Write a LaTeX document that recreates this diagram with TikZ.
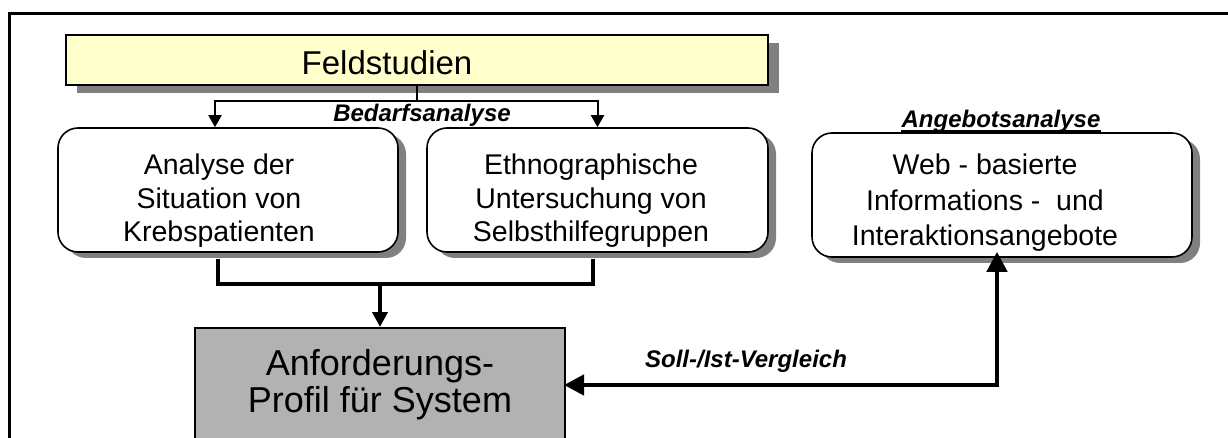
\documentclass[tikz,border=0pt]{standalone}
\usepackage{fontspec}
\setmainfont{Liberation Sans}
\usetikzlibrary{arrows.meta,shadows}

\definecolor{paleyellow}{HTML}{FFFFCC}
\definecolor{reqgray}{HTML}{B2B2B2}
\definecolor{shadowgray}{HTML}{808080}

\tikzset{
  frameline/.style={line width=2.5pt},
  roundbox/.style={draw, fill=white, line width=1.6pt, rounded corners=20pt,
    inner sep=0pt,
    drop shadow={shadow xshift=8pt, shadow yshift=-6pt, fill=shadowgray, opacity=1}},
  titlebox/.style={draw, fill=paleyellow, line width=1.6pt, inner sep=0pt,
    drop shadow={shadow xshift=11pt, shadow yshift=-8pt, fill=shadowgray, opacity=1}},
  reqbox/.style={draw, fill=reqgray, line width=2pt, inner sep=0pt},
  % multi-line texts are placed by the baseline of their last line
  boxtext/.style={align=center, inner sep=0pt, anchor=base},
  tag/.style={font=\fontsize{24}{28}\selectfont\bfseries\itshape, inner sep=0pt, anchor=base},
  thinline/.style={line width=2pt},
  thinlink/.style={line width=2pt, -{Triangle[width=13pt,length=12pt]}},
  thickline/.style={line width=4.5pt},
  thicklink/.style={line width=4.5pt, -{Triangle[width=15pt,length=15pt]}},
  comparelink/.style={line width=4.5pt, {Triangle[width=20pt,length=20pt]}-{Triangle[width=20pt,length=20pt]}},
}

\begin{document}
\begin{tikzpicture}[x=1pt,y=-1pt]
  \clip (0,0) rectangle (1228,438);
  \fill[white] (0,0) rectangle (1228,438);

  % outer frame, running off the page to the right and bottom
  \draw[frameline] (9.5,460) -- (9.5,13.5) -- (1250,13.5);

  % top box
  \node[titlebox, minimum width=702pt, minimum height=50pt] (feld) at (417,60) {};
  \node[inner sep=0pt, anchor=base, font=\fontsize{33}{38}\selectfont] (feldtext) at (387,75) {Feldstudien};

  % the three rounded boxes
  \node[roundbox, minimum width=340pt, minimum height=124pt] (ana) at (228,190) {};
  \node[roundbox, minimum width=341pt, minimum height=124pt] (eth) at (597.5,190) {};
  \node[roundbox, minimum width=380pt, minimum height=124pt] (web) at (1002,195) {};

  \node[boxtext, font=\fontsize{28.5}{33.5}\selectfont] (anatext) at (219,242)
    {Analyse der\\Situation von\\Krebspatienten};
  \node[boxtext, font=\fontsize{28.5}{33.5}\selectfont] (ethtext) at (591,242)
    {Ethnographische\\Untersuchung von\\Selbsthilfegruppen};
  \node[boxtext, font=\fontsize{28.5}{35.5}\selectfont] (webtext) at (985,246)
    {Web - basierte\\Informations -\ \ und\\Interaktionsangebote};

  % requirements box, cut by the bottom edge
  \node[reqbox, minimum width=370pt, minimum height=134pt] (req) at (380,395) {};
  \node[boxtext, font=\fontsize{36}{37}\selectfont] (reqtext) at (380,412)
    {Anforderungs-\\Profil für System};

  % labels
  \node[tag] (bed) at (422,122) {Bedarfsanalyse};
  \node[tag] (ang) at (1001,128) {Angebotsanalyse};
  \draw[line width=1.8pt] ([yshift=-3pt]ang.base west) -- ([yshift=-3pt]ang.base east);
  \node[tag] (soll) at (746,367) {Soll-/Ist-Vergleich};

  % field studies split into the two analyses
  \coordinate (split) at (417,101);
  \draw[thinline] (feld.south) -- (split);
  \draw[thinlink] (split) -| ([xshift=-13pt]ana.north);
  \draw[thinlink] (split) -| (eth.north);

  % both analyses merge into the requirements profile (starting below the shadows)
  \coordinate (merge) at (380,284);
  \draw[thickline] ([xshift=-10pt,yshift=-6pt]ana.south) |- (merge)
    -| ([xshift=-4.5pt,yshift=-6pt]eth.south);
  \draw[thicklink] (merge) -- (req.north);

  % target/actual comparison with the web offers
  \coordinate (corner) at (997,385);
  \draw[comparelink] ([xshift=-2pt]req.east |- corner) -- (corner) -- ([yshift=6pt]web.south -| corner);
\end{tikzpicture}
\end{document}
